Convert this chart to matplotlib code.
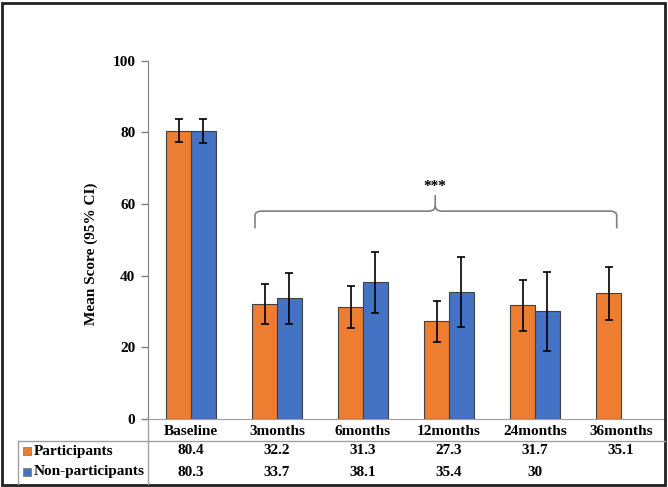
import numpy as np
import matplotlib
matplotlib.use("Agg")
import matplotlib.pyplot as plt
from matplotlib.path import Path
from matplotlib.patches import PathPatch, Rectangle
from matplotlib.lines import Line2D
from matplotlib.transforms import blended_transform_factory

categories = ["Baseline", "3months", "6months", "12months", "24months", "36months"]
participants = [80.4, 32.2, 31.3, 27.3, 31.7, 35.1]
non_participants = [80.3, 33.7, 38.1, 35.4, 30.0, np.nan]
part_lo = [77.2, 26.6, 25.4, 21.6, 24.5, 27.7]
part_hi = [83.6, 37.7, 37.2, 33.0, 38.8, 42.5]
non_lo = [76.9, 26.6, 29.6, 25.8, 19.1, np.nan]
non_hi = [83.7, 40.8, 46.5, 45.1, 40.9, np.nan]
part_labels = ["80.4", "32.2", "31.3", "27.3", "31.7", "35.1"]
non_labels = ["80.3", "33.7", "38.1", "35.4", "30", ""]
series_names = ["Participants", "Non-participants"]
c_orange = "#ED7D31"
c_blue = "#4472C4"

plt.rcParams['font.family'] = ['Liberation Serif', 'DejaVu Serif']
plt.rcParams['font.weight'] = 'bold'

fig = plt.figure(figsize=(6.68, 4.87), dpi=100)
ax = fig.add_axes([148/668, 1-419/487, (664-148)/668, (419-60.6)/487])

x = np.arange(len(categories))
w = 0.285
p = np.array(participants)
n = np.array(non_participants)
ax.bar(x - w/2, p, w, color=c_orange, edgecolor="#404040", linewidth=0.8, zorder=2)
ax.bar(x + w/2, n, w, color=c_blue, edgecolor="#404040", linewidth=0.8, zorder=2)
ax.errorbar(x - w/2, p, yerr=[p - np.array(part_lo), np.array(part_hi) - p], fmt='none',
            ecolor='black', elinewidth=1.2, capsize=3, capthick=1.2, zorder=3)
ax.errorbar(x + w/2, n, yerr=[n - np.array(non_lo), np.array(non_hi) - n], fmt='none',
            ecolor='black', elinewidth=1.2, capsize=3, capthick=1.2, zorder=3)

ax.set_xlim(-0.5, len(categories) - 0.5)
ax.set_ylim(0, 100)
ax.set_yticks(np.arange(0, 101, 20))
ax.tick_params(axis='y', length=5, width=1, color='#7f7f7f', labelsize=11, pad=4)
ax.set_xticks(x)
ax.set_xticklabels(categories, fontsize=11, fontweight='bold')
ax.tick_params(axis='x', length=0, pad=4)
for s in ['top', 'right']:
    ax.spines[s].set_visible(False)
ax.spines['left'].set_color('#7f7f7f')
ax.spines['bottom'].set_color('#a0a0a0')
ax.set_ylabel("Mean Score (95% CI)", fontsize=11, fontweight='bold')
ax.yaxis.set_label_coords(-0.096, 0.461)

# curly brace
xl, xr, xc = 0.744, 4.95, 2.84
yb, ym, yt = 53.2, 58.0, 62.5
r = 0.08
verts = [(xl, yb), (xl, ym - 1.2), (xl, ym), (xl + r, ym),
         (xc - r, ym), (xc, ym), (xc, ym + 1.5), (xc, yt),
         (xc, ym + 1.5), (xc, ym), (xc + r, ym),
         (xr - r, ym), (xr, ym), (xr, ym - 1.2), (xr, yb)]
codes = [Path.MOVETO, Path.LINETO, Path.CURVE3, Path.CURVE3,
         Path.LINETO, Path.CURVE3, Path.CURVE3, Path.LINETO,
         Path.MOVETO, Path.CURVE3, Path.CURVE3,
         Path.LINETO, Path.CURVE3, Path.CURVE3, Path.LINETO]
ax.add_patch(PathPatch(Path(verts, codes), fill=False, edgecolor='#808080', lw=1.2, zorder=4))
ax.text(xc, 65.0, "***", ha='center', va='center', fontsize=11, fontweight='bold')

# data table
tr = blended_transform_factory(ax.transData, fig.transFigure)
row_y = [1 - 451/487, 1 - 472/487]
for i in range(len(categories)):
    ax.text(x[i], row_y[0], part_labels[i], transform=tr, ha='center', va='center',
            fontsize=11, fontweight='bold', clip_on=False)
    ax.text(x[i], row_y[1], non_labels[i], transform=tr, ha='center', va='center',
            fontsize=11, fontweight='bold', clip_on=False)
for yy, name, col in zip(row_y, series_names, [c_orange, c_blue]):
    fig.add_artist(Rectangle((23/668, yy - 4/487), 8/668, 8/487, transform=fig.transFigure,
                             facecolor=col, edgecolor='#7f7f7f', lw=0.6))
    fig.text(34/668, yy, name, ha='left', va='center', fontsize=11, fontweight='bold')

gl = '#a0a0a0'
fig.add_artist(Line2D([18/668, 665/668], [1 - 441/487] * 2, color=gl, lw=1))
fig.add_artist(Line2D([147.5/668] * 2, [1 - 419/487, 1 - 484/487], color=gl, lw=1))
fig.add_artist(Line2D([18/668] * 2, [1 - 441/487, 1 - 484/487], color=gl, lw=1))

# outer frame
fig.add_artist(Rectangle((2/668, 2/487), 663/668, 482/487, transform=fig.transFigure,
                         fill=False, edgecolor='#202020', lw=2))

fig.savefig("out.png", dpi=100)
